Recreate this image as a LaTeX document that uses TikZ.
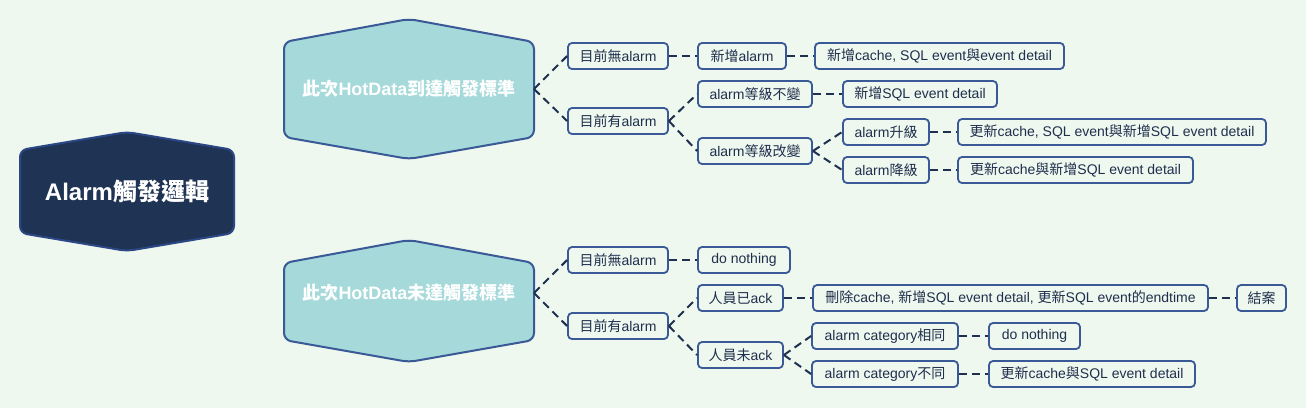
\documentclass[tikz,border=0pt]{standalone}
\usepackage{fontspec}
\setmainfont{Liberation Sans}
\newfontfamily\cjkfont{Noto Sans CJK TC}
\usetikzlibrary{backgrounds}
\XeTeXinterchartokenstate=1
\newXeTeXintercharclass\cjkclass
\newcount\cjkcnt
\cjkcnt="3000
\loop
  \XeTeXcharclass\cjkcnt=\cjkclass
  \advance\cjkcnt by 1
\ifnum\cjkcnt<"A000 \repeat
\XeTeXinterchartoks 0 \cjkclass = {\cjkfont}
\XeTeXinterchartoks 4095 \cjkclass = {\cjkfont}
\XeTeXinterchartoks \cjkclass 0 = {\rmfamily}
\XeTeXinterchartoks \cjkclass 4095 = {\rmfamily}
\definecolor{bg}{HTML}{EEF8EE}
\definecolor{rootfill}{HTML}{1F3354}
\definecolor{rootborder}{HTML}{2C4785}
\definecolor{hexfill}{HTML}{A6D9D9}
\definecolor{bord}{HTML}{3A5997}
\definecolor{txt}{HTML}{1F2E4D}
\definecolor{lin}{HTML}{1F3050}
\tikzset{
  x=1pt, y=-1pt,
  leaf/.style={draw=bord, line width=1.8pt, rounded corners=4pt, fill=bg,
    minimum height=26pt, inner sep=0pt, text=txt,
    font=\fontsize{14}{16}\selectfont},
  conn/.style={draw=lin, line width=2pt, dash pattern=on 8pt off 5pt},
  rootconn/.style={draw=lin, line width=3.5pt, dash pattern=on 11pt off 7pt, line cap=round, shorten >=4pt},
  hexshape/.style={draw=bord, line width=2pt, fill=hexfill, rounded corners=7pt},
  hextext/.style={text=white, font=\bfseries\fontsize{18}{21}\selectfont, inner sep=0pt},
}
\begin{document}
\begin{tikzpicture}
\fill[bg] (0,0) rectangle (1306,408);
\useasboundingbox (0,0) rectangle (1306,408);

% root
\draw[draw=rootborder, line width=2pt, fill=rootfill, rounded corners=7pt]
  (20,150) -- (127,132) -- (234,150) -- (234,233) -- (127,251) -- (20,233) -- cycle;
\node[text=white, font=\bfseries\fontsize{24}{28}\selectfont, inner sep=0pt] (root) at (127,191) {Alarm觸發邏輯};

% hexagons
\draw[hexshape] (284,42) -- (409,19) -- (534,42) -- (534,137) -- (409,159) -- (284,137) -- cycle;
\node[hextext] (h1) at (409,89) {此次HotData到達觸發標準};
\coordinate (h1w) at (284,89);
\coordinate (h1e) at (534,89);

\draw[hexshape] (284,263) -- (409,240) -- (534,263) -- (534,340) -- (409,362) -- (284,340) -- cycle;
\node[hextext] (h2) at (409,293) {此次HotData未達觸發標準};
\coordinate (h2w) at (284,293);
\coordinate (h2e) at (534,293);

% top group
\node[leaf, minimum width=100pt] (a1) at (618,56) {目前無alarm};
\node[leaf, minimum width=88pt] (a2) at (742,56) {新增alarm};
\node[leaf, minimum width=249pt] (a3) at (939.5,56) {新增cache, SQL event與event detail};
\node[leaf, minimum width=100pt] (b) at (618,121) {目前有alarm};
\node[leaf, minimum width=114pt] (b1) at (755,94) {alarm等級不變};
\node[leaf, minimum width=154pt] (b1a) at (920,94) {新增SQL event detail};
\node[leaf, minimum width=114pt] (b2) at (755,151) {alarm等級改變};
\node[leaf, minimum width=86pt] (c1) at (886,132) {alarm升級};
\node[leaf, minimum width=308pt] (c1a) at (1112,132) {更新cache, SQL event與新增SQL event detail};
\node[leaf, minimum width=86pt] (c2) at (886,170) {alarm降級};
\node[leaf, minimum width=235pt] (c2a) at (1075.5,170) {更新cache與新增SQL event detail};

% bottom group
\node[leaf, minimum width=100pt] (d1) at (618,260) {目前無alarm};
\node[leaf, minimum width=92pt] (d1a) at (744,260) {do nothing};
\node[leaf, minimum width=100pt] (e) at (618,326) {目前有alarm};
\node[leaf, minimum width=85pt] (e1) at (740.5,298) {人員已ack};
\node[leaf, minimum width=395pt] (e1a) at (1010.5,298) {刪除cache, 新增SQL event detail, 更新SQL event的endtime};
\node[leaf, minimum width=49pt] (e1b) at (1261.5,298) {結案};
\node[leaf, minimum width=85pt] (e2) at (740.5,355) {人員未ack};
\node[leaf, minimum width=146pt] (f1) at (885,336) {alarm category相同};
\node[leaf, minimum width=91pt] (f1a) at (1034.5,336) {do nothing};
\node[leaf, minimum width=146pt] (f2) at (885,374) {alarm category不同};
\node[leaf, minimum width=206pt] (f2a) at (1092,374) {更新cache與SQL event detail};

\begin{pgfonlayer}{background}
\draw[rootconn] (root.center) -- (h1w);
\draw[rootconn] (root.center) -- (h2w);
\end{pgfonlayer}

\draw[conn] (h1e) -- (a1.west);
\draw[conn] (h1e) -- (b.west);
\draw[conn] (a1.east) -- (a2.west);
\draw[conn] (a2.east) -- (a3.west);
\draw[conn] (b.east) -- (b1.west);
\draw[conn] (b.east) -- (b2.west);
\draw[conn] (b1.east) -- (b1a.west);
\draw[conn] (b2.east) -- (c1.west);
\draw[conn] (b2.east) -- (c2.west);
\draw[conn] (c1.east) -- (c1a.west);
\draw[conn] (c2.east) -- (c2a.west);

\draw[conn] (h2e) -- (d1.west);
\draw[conn] (h2e) -- (e.west);
\draw[conn] (d1.east) -- (d1a.west);
\draw[conn] (e.east) -- (e1.west);
\draw[conn] (e.east) -- (e2.west);
\draw[conn] (e1.east) -- (e1a.west);
\draw[conn] (e1a.east) -- (e1b.west);
\draw[conn] (e2.east) -- (f1.west);
\draw[conn] (e2.east) -- (f2.west);
\draw[conn] (f1.east) -- (f1a.west);
\draw[conn] (f2.east) -- (f2a.west);
\end{tikzpicture}
\end{document}
